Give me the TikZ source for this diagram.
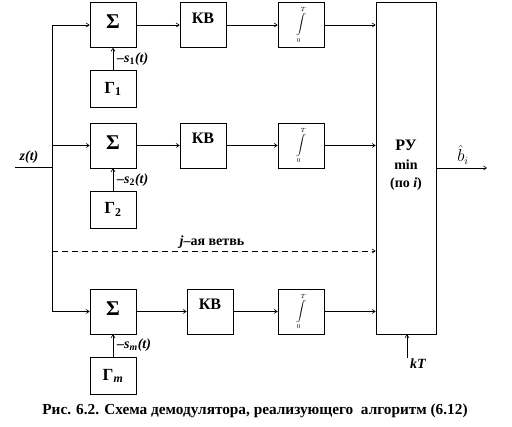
\documentclass[tikz,border=0pt]{standalone}
\usepackage{fontspec}
\setmainfont{Liberation Serif}
\usetikzlibrary{arrows.meta}
\begin{document}
\begin{tikzpicture}[x=1pt,y=-1pt,
  box/.style={draw,line width=0.7pt,minimum width=46pt,minimum height=45pt,inner sep=0pt},
  gbox/.style={draw,line width=0.7pt,minimum width=46pt,minimum height=37pt,inner sep=0pt,font=\fontsize{17}{19}\bfseries\selectfont},
  conn/.style={line width=0.6pt,-{Straight Barb[length=3pt,width=4pt]}},
  lab/.style={font=\fontsize{14}{16}\bfseries\itshape\selectfont,inner sep=0pt},
  ttl/.style={font=\fontsize{16}{18}\bfseries\selectfont,inner sep=0pt},
  sig/.style={font=\fontsize{21}{23}\bfseries\selectfont,inner sep=0pt},
  intg/.style={inner sep=0pt,font=\fontsize{8}{10}\selectfont}]
\useasboundingbox (0,0) rectangle (512,427);
% row 1
\node[box] (s1) at (113,25) {};
\node[sig] at (113,22) {Σ};
\node[box] (k1) at (203,25) {};
\node[ttl] at (203,18) {КВ};
\node[box] (i1) at (301,25) {};
\node[intg] at (301,25) {$\displaystyle\int\limits_{0}^{T}$};
\node[gbox] (g1) at (113,89) {Г\textsubscript{1}};
% row 2
\node[box] (s2) at (113,145.5) {};
\node[sig] at (113,142.5) {Σ};
\node[box] (k2) at (203,145.5) {};
\node[ttl] at (203,138.5) {КВ};
\node[box] (i2) at (301,145.5) {};
\node[intg] at (301,145.5) {$\displaystyle\int\limits_{0}^{T}$};
\node[gbox] (g2) at (113,209.5) {Г\textsubscript{2}};
% row 3
\node[box] (s3) at (113,311.5) {};
\node[sig] at (113,308.5) {Σ};
\node[box] (k3) at (210,311.5) {};
\node[ttl] at (210,304.5) {КВ};
\node[box] (i3) at (301,311.5) {};
\node[intg] at (301,311.5) {$\displaystyle\int\limits_{0}^{T}$};
\node[gbox] (g3) at (113,376) {Г\textsubscript{\textit{m}}};
% decision device
\node[draw,line width=0.7pt,minimum width=60pt,minimum height=332pt,inner sep=0pt] (ru) at (406,168) {};
\node[ttl] at (406,145) {РУ};
\node[ttl,font=\fontsize{14}{16}\bfseries\selectfont] at (406,165) {min};
\node[ttl,font=\fontsize{14}{16}\bfseries\selectfont] at (406,184) {(по \textit{i})};
% bus
\coordinate (zin) at (15,167);
\coordinate (bz) at (52,167);
\coordinate (btop) at (52,25);
\coordinate (b2) at (52,145.5);
\coordinate (bj) at (52,251);
\coordinate (bbot) at (52,311.5);
\draw[line width=0.6pt] (zin) -- (bz);
\draw[line width=0.6pt] (btop) -- (bbot);
\node[lab] at (29,157) {z(t)};
% connectors
\foreach \r in {1,2,3}{
  \draw[conn] (s\r) -- (k\r);
  \draw[conn] (k\r) -- (i\r);
  \draw[conn] (i\r.east) -- (i\r.east -| ru.west);
  \draw[conn] (g\r) -- (s\r);
}
\draw[conn] (btop) -- (s1);
\draw[conn] (b2) -- (s2);
\draw[conn] (bbot) -- (s3);
\draw[conn,dashed,dash pattern=on 6pt off 4pt] (bj) -- (bj -| ru.west);
\node[lab,font=\fontsize{14}{16}\bfseries\selectfont] at (212,242) {\textit{j}–ая ветвь};
% signal labels
\node[lab,anchor=west] at (117,59) {–s\textsubscript{\upshape 1}(t)};
\node[lab,anchor=west] at (117,180) {–s\textsubscript{\upshape 2}(t)};
\node[lab,anchor=west] at (117,345) {–s\textsubscript{m}(t)};
% output
\coordinate (out) at (487,168);
\draw[conn] (ru.east |- out) -- (out);
\node[font=\fontsize{16}{18}\selectfont,inner sep=0pt] at (463,155) {$\hat{b}_{i}$};
% clock
\coordinate (kt) at (407,358);
\draw[conn] (kt) -- (kt |- ru.south);
\node[lab,anchor=west] at (410,364) {kT};
% caption
\node[font=\fontsize{15.3}{17}\bfseries\selectfont] at (255,411) {Рис. 6.2. Схема демодулятора, реализующего\ \ алгоритм (6.12)};
\end{tikzpicture}
\end{document}
